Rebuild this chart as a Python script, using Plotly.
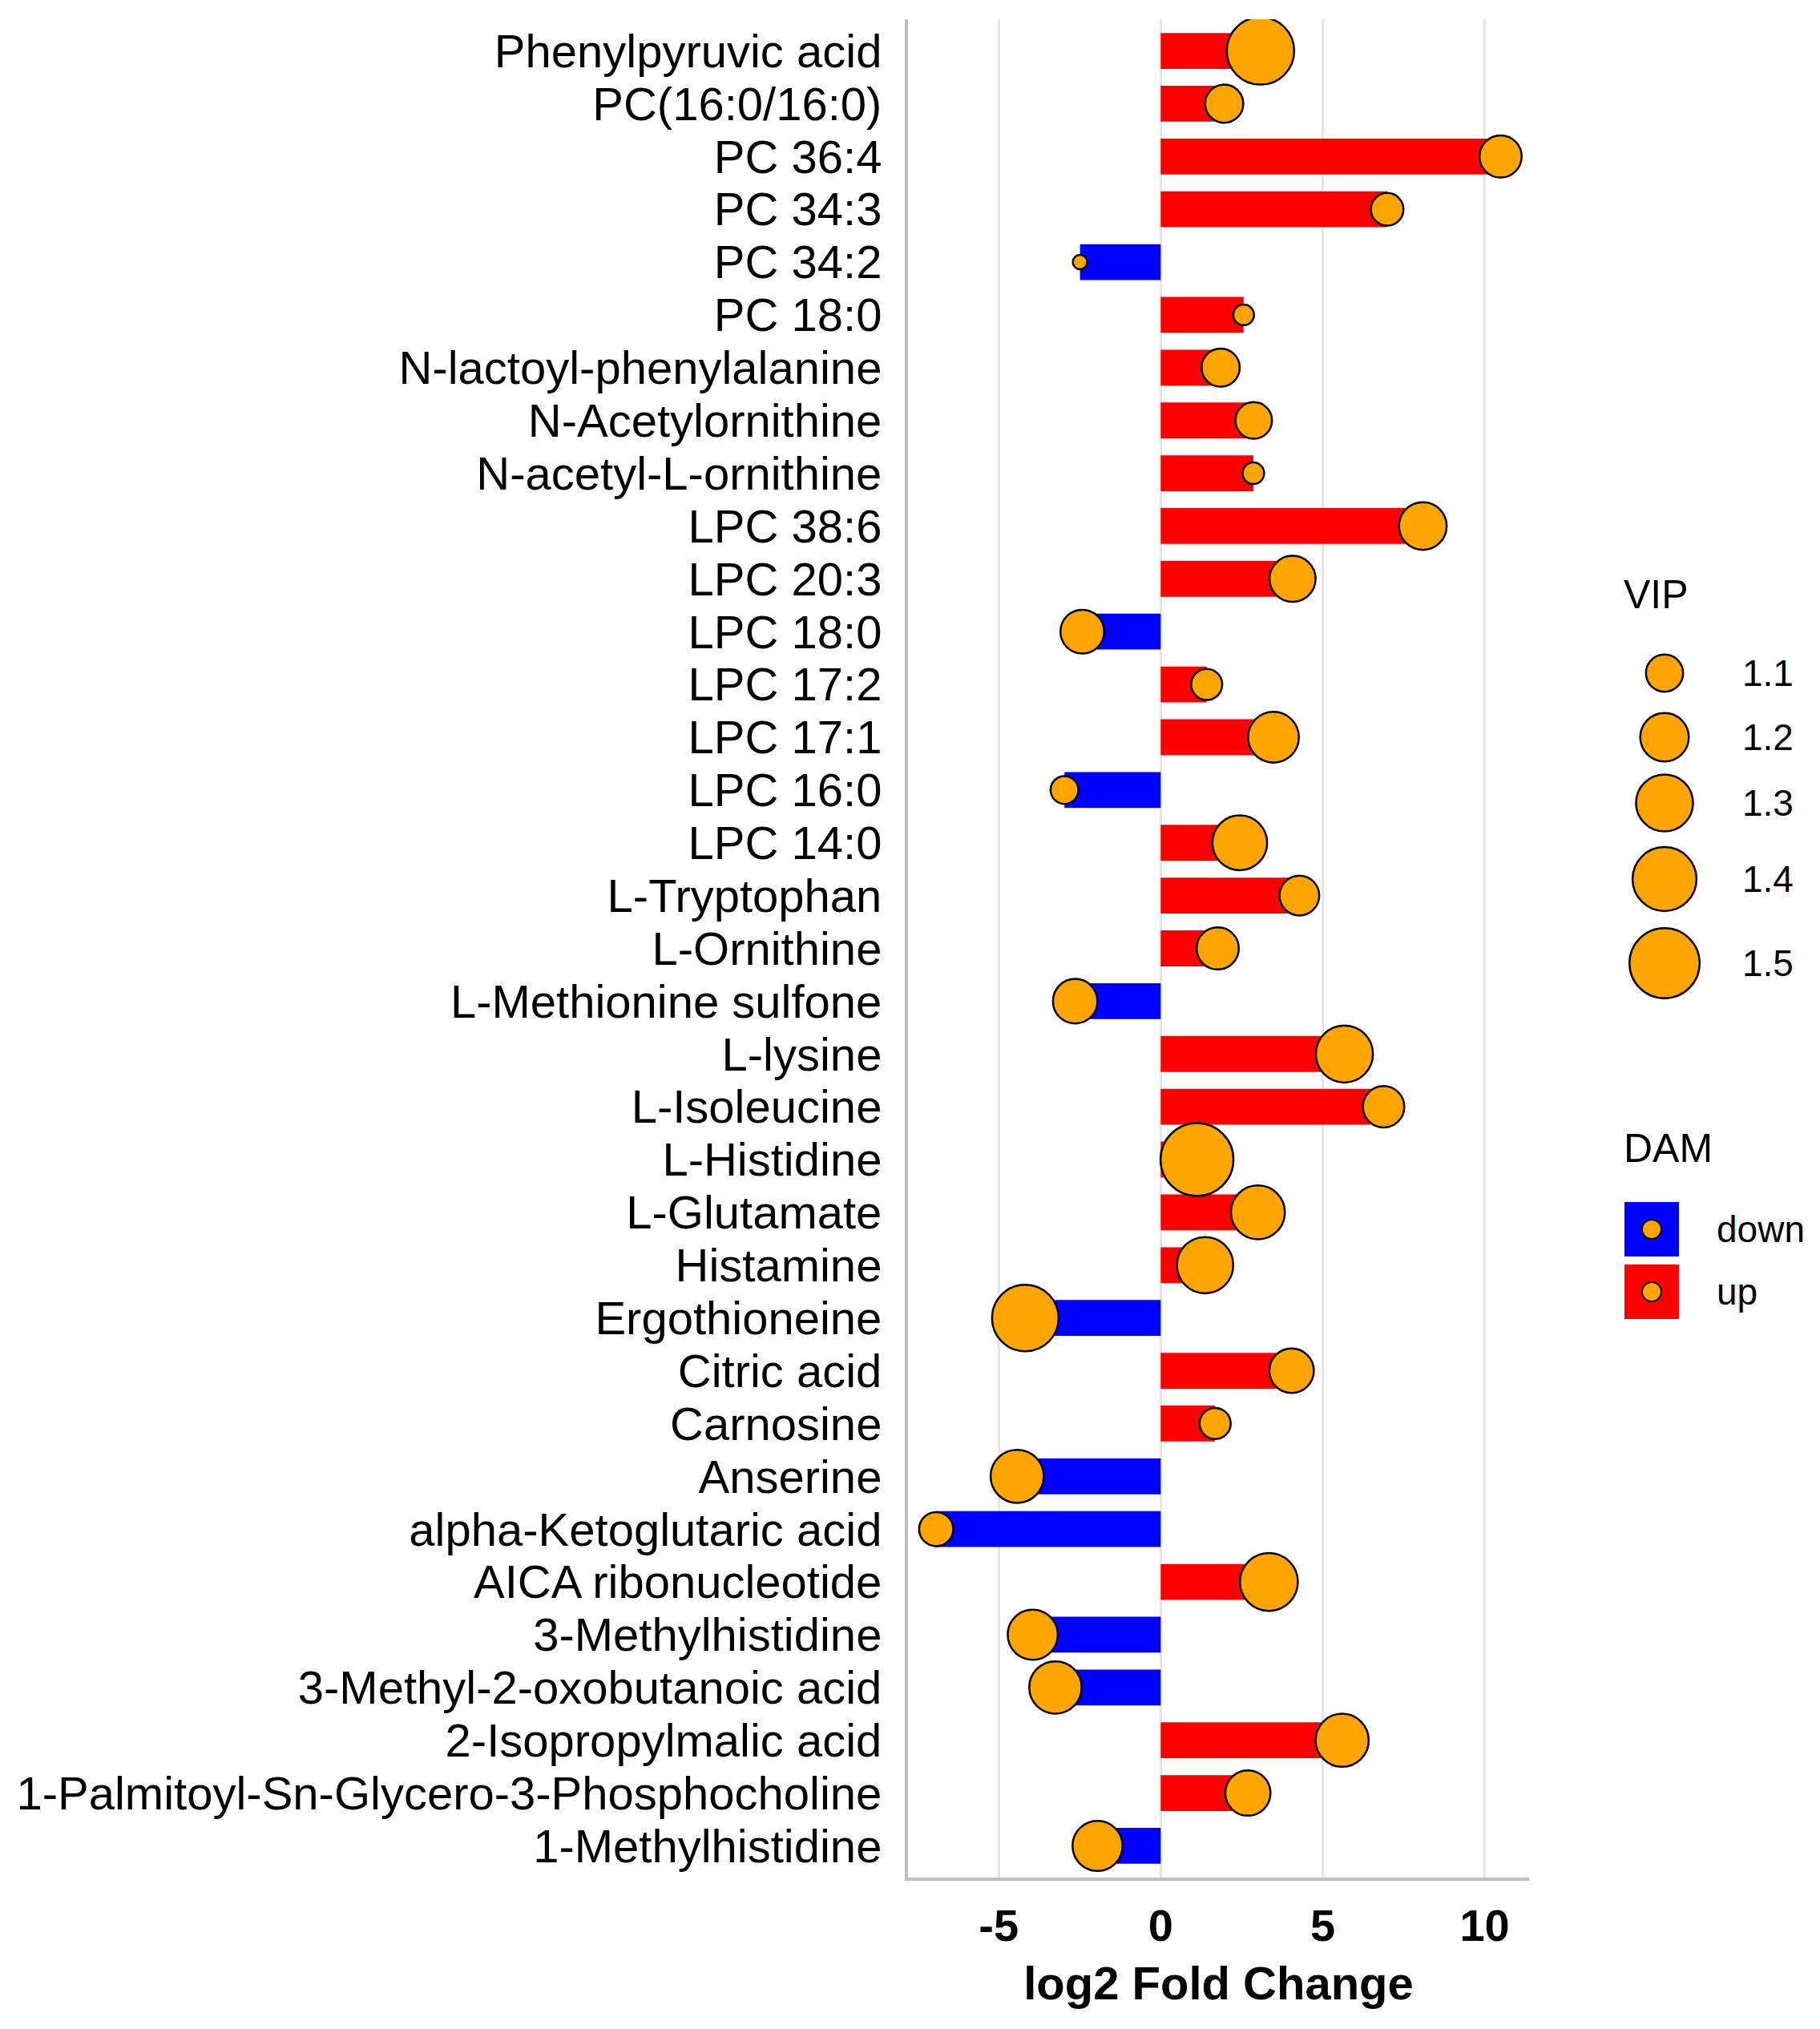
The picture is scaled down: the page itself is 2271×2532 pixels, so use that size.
import numpy as np
import plotly.graph_objects as go

# metabolites, top to bottom
names = [
    "Phenylpyruvic acid", "PC(16:0/16:0)", "PC 36:4", "PC 34:3", "PC 34:2",
    "PC 18:0", "N-lactoyl-phenylalanine", "N-Acetylornithine", "N-acetyl-L-ornithine",
    "LPC 38:6", "LPC 20:3", "LPC 18:0", "LPC 17:2", "LPC 17:1", "LPC 16:0",
    "LPC 14:0", "L-Tryptophan", "L-Ornithine", "L-Methionine sulfone", "L-lysine",
    "L-Isoleucine", "L-Histidine", "L-Glutamate", "Histamine", "Ergothioneine",
    "Citric acid", "Carnosine", "Anserine", "alpha-Ketoglutaric acid",
    "AICA ribonucleotide", "3-Methylhistidine", "3-Methyl-2-oxobutanoic acid",
    "2-Isopropylmalic acid", "1-Palmitoyl-Sn-Glycero-3-Phosphocholine",
    "1-Methylhistidine",
]
log2fc = [
    3.08, 1.96, 10.49, 6.99, -2.49,
    2.56, 1.85, 2.87, 2.86,
    8.09, 4.07, -2.42, 1.42, 3.48, -2.97,
    2.44, 4.28, 1.76, -2.64, 5.67,
    6.88, 1.12, 3.00, 1.37, -4.18,
    4.04, 1.68, -4.43, -6.93,
    3.34, -3.95, -3.25,
    5.60, 2.69,
    -1.95,
]
vip = [
    1.455, 1.107, 1.139, 1.071, 1.020,
    1.026, 1.107, 1.096, 1.028,
    1.191, 1.175, 1.153, 1.063, 1.225, 1.048,
    1.272, 1.119, 1.139, 1.160, 1.302,
    1.132, 1.550, 1.262, 1.292, 1.441,
    1.160, 1.063, 1.252, 1.080,
    1.313, 1.216, 1.243,
    1.252, 1.167,
    1.216,
]
vip_breaks = [1.1, 1.2, 1.3, 1.4, 1.5]
dam_levels = ["down", "up"]
x_ticks = [-5, 0, 5, 10]
x_tick_text = ["-5", "0", "5", "10"]

FONT = "Liberation Sans"
RED, BLUE, ORANGE = "#FF0000", "#0000FF", "#FFA500"
W, H = 2271, 2532
L, R, T, B = 1133, 0, 24, 189
PLOT_RIGHT = 1908
DMIN, DMAX = 18, 91

vmin, vmax = min(vip), max(vip)


def vip_size(v):
    # area-style size scale, like ggplot's scale_size
    v = np.asarray(v, dtype=float)
    return DMIN + (DMAX - DMIN) * np.sqrt(np.clip((v - vmin) / (vmax - vmin), 0, 1))


fc = np.array(log2fc)
up = fc > 0

fig = go.Figure()

fig.add_trace(go.Bar(
    x=fc[~up], y=np.array(names)[~up], orientation="h", width=0.68,
    marker=dict(color=BLUE, line=dict(width=0)), showlegend=False,
))
fig.add_trace(go.Bar(
    x=fc[up], y=np.array(names)[up], orientation="h", width=0.68,
    marker=dict(color=RED, line=dict(width=0)), showlegend=False,
))
fig.add_trace(go.Scatter(
    x=fc, y=names, mode="markers",
    marker=dict(size=vip_size(vip), color=ORANGE, opacity=1,
                line=dict(color="black", width=2.5)),
    showlegend=False,
))

# legend drawn on a pixel-unit helper axis in the right area
leg_x_circle = 2077
leg_x_text = 2172
leg_y_vip = [840, 920, 1002, 1097, 1202]
fig.add_trace(go.Scatter(
    x=[leg_x_circle] * len(vip_breaks), y=leg_y_vip, mode="markers",
    marker=dict(size=vip_size(vip_breaks), color=ORANGE, opacity=1,
                line=dict(color="black", width=2.5)),
    xaxis="x2", yaxis="y2", showlegend=False, hoverinfo="skip",
))
leg_y_dam = [1534, 1612]
fig.add_trace(go.Scatter(
    x=[2061, 2061], y=leg_y_dam, mode="markers",
    marker=dict(size=68, symbol="square", color=[BLUE, RED], opacity=1, line=dict(width=0)),
    xaxis="x2", yaxis="y2", showlegend=False, hoverinfo="skip",
))
fig.add_trace(go.Scatter(
    x=[2061, 2061], y=leg_y_dam, mode="markers",
    marker=dict(size=24, color=ORANGE, opacity=1, line=dict(color="black", width=2)),
    xaxis="x2", yaxis="y2", showlegend=False, hoverinfo="skip",
))

annotations = [
    dict(text="VIP", x=2024, y=742, xanchor="left", yanchor="middle",
         font=dict(size=50, color="black", family=FONT)),
    dict(text="DAM", x=2024, y=1433, xanchor="left", yanchor="middle",
         font=dict(size=50, color="black", family=FONT)),
]
for b, yy in zip(vip_breaks, leg_y_vip):
    annotations.append(dict(text=f"{b:.1f}", x=leg_x_text, y=yy, xanchor="left",
                            yanchor="middle", font=dict(size=46, color="black", family=FONT)))
for lab, yy in zip(dam_levels, leg_y_dam):
    annotations.append(dict(text=lab, x=2140, y=yy, xanchor="left", yanchor="middle",
                            font=dict(size=46, color="black", family=FONT)))
for a in annotations:
    a.update(xref="x2", yref="y2", showarrow=False)

pw = W - L - R
fig.update_layout(
    width=W, height=H,
    margin=dict(l=L, r=R, t=T, b=B, pad=0),
    paper_bgcolor="white", plot_bgcolor="white",
    barmode="relative",
    font=dict(family=FONT, color="black"),
    annotations=annotations,
    xaxis=dict(
        domain=[0, (PLOT_RIGHT - L) / pw],
        range=[-7.8, 11.37], tickmode="array", tickvals=x_ticks, ticktext=x_tick_text,
        showgrid=True, gridcolor="#E6E6E6", gridwidth=3, zeroline=False,
        showline=True, linecolor="#BEBEBE", linewidth=4,
        ticks="", ticklabelstandoff=8,
        tickfont=dict(size=56, color="black", family=FONT, weight="bold"),
        title=dict(text="log2 Fold Change", standoff=22,
                   font=dict(size=58, color="black", family=FONT, weight="bold")),
    ),
    yaxis=dict(
        type="category", categoryorder="array", categoryarray=names,
        tickmode="array", tickvals=names, ticktext=names,
        range=[34.6, -0.6], autorange=False,
        showgrid=False, zeroline=False,
        showline=True, linecolor="#BEBEBE", linewidth=4,
        ticks="", ticklabelstandoff=17,
        tickfont=dict(size=58, color="black", family=FONT),
    ),
    xaxis2=dict(domain=[(2000 - L) / pw, 1], range=[2000, W], visible=False,
                anchor="y2", fixedrange=True),
    yaxis2=dict(domain=[0, 1], range=[H - B, T], visible=False, anchor="x2",
                fixedrange=True),
)

fig.write_html("out.html", config={"displayModeBar": False},
               post_script="document.body.style.margin='0';")
